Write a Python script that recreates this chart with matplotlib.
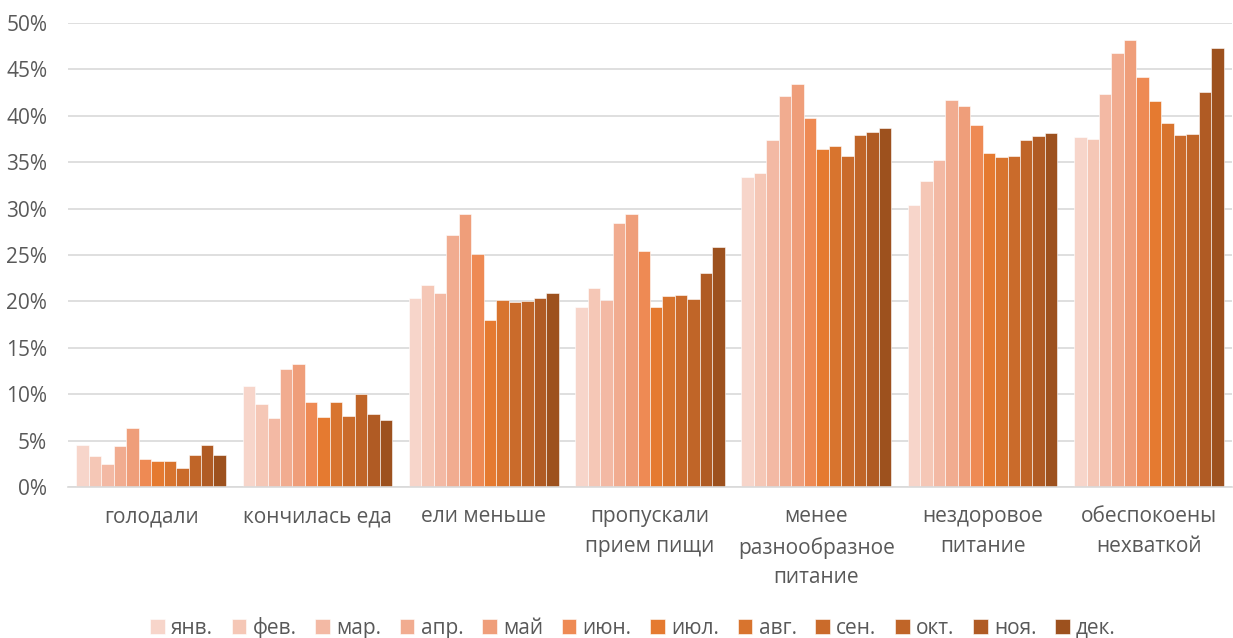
import numpy as np
import matplotlib.pyplot as plt
from matplotlib.ticker import PercentFormatter

categories = ["голодали", "кончилась еда", "ели меньше", "пропускали\nприем пищи",
              "менее\nразнообразное\nпитание", "нездоровое\nпитание", "обеспокоены\nнехваткой"]
months = ["янв.", "фев.", "мар.", "апр.", "май", "июн.", "июл.", "авг.", "сен.", "окт.", "ноя.", "дек."]

# values by category, one per month (%)
golodali = [4.5, 3.3, 2.5, 4.4, 6.4, 3.0, 2.8, 2.8, 2.1, 3.5, 4.5, 3.4]
konchilas = [10.9, 8.9, 7.4, 12.7, 13.3, 9.2, 7.5, 9.2, 7.7, 10.0, 7.9, 7.2]
eli_menshe = [20.4, 21.8, 20.9, 27.2, 29.4, 25.1, 18.0, 20.1, 19.9, 20.0, 20.4, 20.9]
propuskali = [19.4, 21.4, 20.1, 28.4, 29.4, 25.4, 19.4, 20.6, 20.7, 20.3, 23.1, 25.9]
menee_raznoobr = [33.4, 33.8, 37.4, 42.1, 43.4, 39.8, 36.4, 36.7, 35.7, 37.9, 38.3, 38.7]
nezdorovoe = [30.4, 33.0, 35.2, 41.7, 41.1, 39.0, 36.0, 35.6, 35.7, 37.4, 37.8, 38.2]
obespokoeny = [37.7, 37.5, 42.4, 46.8, 48.2, 44.2, 41.6, 39.2, 37.9, 38.0, 42.6, 47.3]

colors = ["#F7D5CA", "#F5C7B6", "#F3B9A4", "#F1AC90", "#EF9E7A", "#EE8A54",
          "#E57A30", "#D8742E", "#CA6B2B", "#C06528", "#B05B24", "#9D511E"]

data = np.array([golodali, konchilas, eli_menshe, propuskali,
                 menee_raznoobr, nezdorovoe, obespokoeny])

plt.rcParams['font.family'] = ['Open Sans', 'DejaVu Sans']

W, H = 1233, 638
fig = plt.figure(figsize=(W / 100, H / 100), dpi=100)
ax = fig.add_axes([68 / W, 1 - 487 / H, (1232 - 68) / W, (487 - 23) / H])

n = len(months)
x = np.arange(len(categories))
bw = 0.9 / n
for i, m in enumerate(months):
    ax.bar(x - 0.45 + bw * (i + 0.5), data[:, i], width=bw, color=colors[i],
           edgecolor="white", linewidth=0.4, label=m, zorder=2)

ax.set_xlim(-0.5, len(categories) - 0.5)
ax.set_ylim(0, 50)
ax.set_yticks(np.arange(0, 51, 5))
ax.yaxis.set_major_formatter(PercentFormatter(decimals=0))
ax.grid(axis="y", color="#D9D9D9", linewidth=1.2, zorder=0)
ax.set_axisbelow(True)
for s in ["top", "right", "left"]:
    ax.spines[s].set_visible(False)
ax.spines["bottom"].set_color("#D9D9D9")
ax.spines["bottom"].set_linewidth(1.2)
ax.tick_params(axis="both", length=0, colors="#595959", labelsize=15)
ax.tick_params(axis="y", pad=15)
ax.tick_params(axis="x", pad=14)
ax.set_xticks(x)
ax.set_xticklabels(categories, linespacing=1.55, va="top")

leg = fig.legend(loc="center", bbox_to_anchor=(633 / W, 1 - 628 / H), ncol=n,
                 frameon=False, fontsize=15, handlelength=0.7, handleheight=0.7,
                 handletextpad=0.3, columnspacing=0.9, labelcolor="#595959")

fig.savefig("out.png", dpi=100)
